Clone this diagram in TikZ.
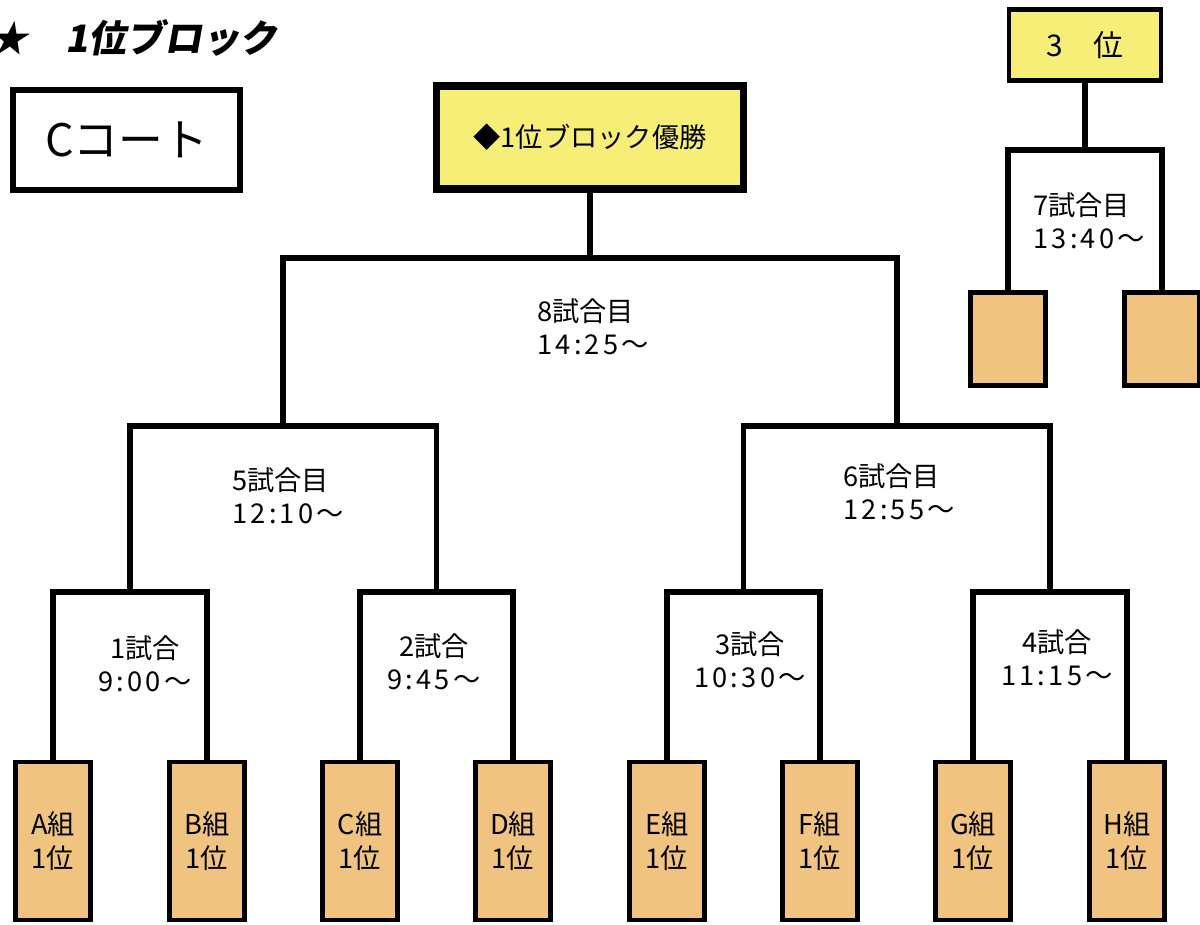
\documentclass[tikz,border=0pt]{standalone}
\usepackage{fontspec}
\setmainfont{Noto Sans CJK JP}
\newfontfamily\titlefont[FakeSlant=0.18]{Noto Sans CJK JP}
\newfontfamily\timefont[LetterSpace=12]{Noto Sans CJK JP}
\usetikzlibrary{positioning}
\definecolor{goldfill}{RGB}{247,238,120}
\definecolor{teamfill}{RGB}{240,196,128}

\begin{document}
\begin{tikzpicture} [x=0.02cm, y=-0.02cm,
                bracket line/.style = {line width=3.4pt},
                team box/.style = {draw, line width=2.8pt, fill=teamfill, inner sep=0pt, minimum width=1.5cm, minimum height=3.16cm, align=center, font=\fontsize{15.5}{19}\selectfont},
                gold box/.style = {draw, fill=goldfill, inner sep=0pt},
                match label/.style = {inner sep=0pt, font=\fontsize{15.5}{19}\selectfont}
            ]
            \path[use as bounding box, fill=white] (0,0) rectangle (1200,925);
            \node (ttl) at (-16, 38) [anchor=west, font={\titlefont\bfseries\fontsize{21.5}{26}\selectfont}] {★　1位ブロック};
            \node (c) at (126.5, 140) [draw, line width=3.4pt, inner sep=0pt, minimum width=4.54cm, minimum height=2cm, font=\fontsize{25.5}{30}\selectfont] {Cコート};
            \node (w) at (590, 137.5) [gold box, line width=4.5pt, minimum width=6.14cm, minimum height=2.06cm, font=\fontsize{15.5}{19}\selectfont] {◆1位ブロック優勝};
            \node (p3) at (1085, 45) [gold box, line width=2.8pt, minimum width=3.04cm, minimum height=1.42cm, font=\fontsize{17}{20}\selectfont] {3　位};
            \node (s1) at (1008, 339) [team box, minimum height=1.86cm] {};
            \node (s2) at (1162, 339) [team box, minimum height=1.86cm] {};
            \node (t1) at (53, 841) [team box] {A組\\1位};
            \node (t2) at (207, 841) [team box] {B組\\1位};
            \node (t3) at (360, 841) [team box] {C組\\1位};
            \node (t4) at (513, 841) [team box] {D組\\1位};
            \node (t5) at (667, 841) [team box] {E組\\1位};
            \node (t6) at (820, 841) [team box] {F組\\1位};
            \node (t7) at (973, 841) [team box] {G組\\1位};
            \node (t8) at (1127, 841) [team box] {H組\\1位};
            \coordinate (m1) at (130, 592);
            \coordinate (m2) at (436.5, 592);
            \coordinate (m3) at (743.5, 592);
            \coordinate (m4) at (1050, 592);
            \coordinate (m5) at (283.25, 426);
            \coordinate (m6) at (896.75, 426);
            \coordinate (m8) at (590, 258);
            \coordinate (m7) at (1085, 150);
            \draw [bracket line] (t1.north) |- (m1) -| (t2.north);
            \draw [bracket line] (t3.north) |- (m2) -| (t4.north);
            \draw [bracket line] (t5.north) |- (m3) -| (t6.north);
            \draw [bracket line] (t7.north) |- (m4) -| (t8.north);
            \draw [bracket line] (m1) |- (m5) -| (m2);
            \draw [bracket line] (m3) |- (m6) -| (m4);
            \draw [bracket line] (m5) |- (m8) -| (m6);
            \draw [bracket line] (m8) -- (w.south);
            \draw [bracket line] (s1.north) |- (m7) -| (s2.north);
            \draw [bracket line] (m7) -- (p3.south);
            \node (l1) at (145, 664) [match label, align=center] {1試合\\\timefont 9:00〜};
            \node (l2) at (434, 662) [match label, align=center] {2試合\\\timefont 9:45〜};
            \node (l3) at (750, 660) [match label, align=center] {3試合\\\timefont 10:30〜};
            \node (l4) at (1057, 658) [match label, align=center] {4試合\\\timefont 11:15〜};
            \node (l5) at (232, 496) [match label, anchor=west, align=left] {5試合目\\\timefont 12:10〜};
            \node (l6) at (843, 492) [match label, anchor=west, align=left] {6試合目\\\timefont 12:55〜};
            \node (l8) at (537, 327) [match label, anchor=west, align=left] {8試合目\\\timefont 14:25〜};
            \node (l7) at (1033, 221) [match label, anchor=west, align=left] {7試合目\\\timefont 13:40〜};
        \end{tikzpicture}
\end{document}
